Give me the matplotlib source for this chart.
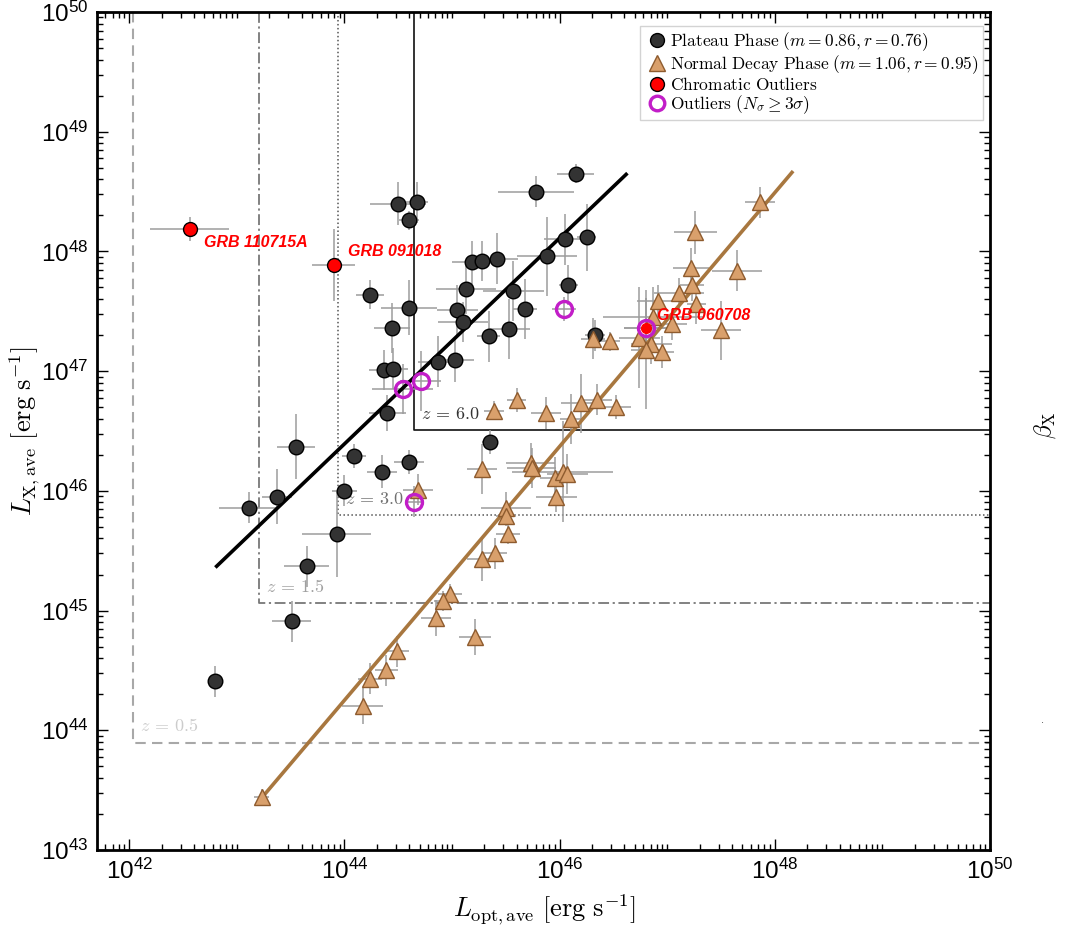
import numpy as np
import matplotlib
matplotlib.use("Agg")
import matplotlib.pyplot as plt
from matplotlib import font_manager
from matplotlib.lines import Line2D
from matplotlib.font_manager import FontProperties
from matplotlib.ticker import FixedLocator, FuncFormatter

# ---------------------------------------------------------------------------
# Data (log10 of luminosities) and symmetric errors in dex
# ---------------------------------------------------------------------------
plat_log_opt = [44.50, 44.67, 44.60, 44.24, 44.60, 44.44, 44.37, 44.45, 44.40, 44.87,
                43.55, 46.15, 45.78, 46.05, 46.25, 45.88, 45.19, 45.28, 45.42, 45.13,
                45.57, 46.08, 45.05, 45.68, 45.10, 45.34, 45.53, 45.03, 46.33, 45.35,
                43.37, 43.11, 44.09, 44.35, 44.60, 44.00, 43.93, 43.65, 43.51, 42.80]
plat_log_x = [48.40, 48.41, 48.26, 47.64, 47.53, 47.36, 47.01, 47.02, 46.65, 47.08,
              46.37, 48.65, 48.50, 48.10, 48.12, 47.96, 47.91, 47.92, 47.94, 47.69,
              47.67, 47.72, 47.51, 47.52, 47.41, 47.29, 47.35, 47.09, 47.30, 46.41,
              45.95, 45.86, 46.29, 46.16, 46.24, 46.00, 45.64, 45.37, 44.91, 44.41]
plat_err_opt = [0.26, 0.11, 0.09, 0.13, 0.26, 0.17, 0.14, 0.14, 0.17, 0.19,
                0.18, 0.17, 0.35, 0.20, 0.09, 0.28, 0.19, 0.14, 0.19, 0.28,
                0.28, 0.09, 0.19, 0.11, 0.23, 0.11, 0.19, 0.17, 0.09, 0.07,
                0.14, 0.28, 0.11, 0.14, 0.14, 0.12, 0.32, 0.21, 0.18, 0.05]
plat_err_x = [0.18, 0.17, 0.08, 0.12, 0.23, 0.21, 0.17, 0.17, 0.15, 0.21,
              0.27, 0.08, 0.13, 0.21, 0.28, 0.33, 0.18, 0.17, 0.21, 0.21,
              0.25, 0.17, 0.21, 0.25, 0.17, 0.21, 0.25, 0.18, 0.13, 0.10,
              0.23, 0.13, 0.10, 0.14, 0.10, 0.13, 0.36, 0.17, 0.17, 0.13]

norm_log_opt = [45.60, 45.39, 45.87, 46.11, 46.20, 46.35, 46.52, 45.28, 45.73, 45.74,
                45.96, 46.03, 46.07, 45.97, 45.50, 45.50, 45.52, 45.28, 45.40, 44.98,
                44.92, 44.85, 45.21, 44.49, 44.39, 44.24, 44.17, 44.68, 43.23, 47.86,
                47.26, 47.22, 47.65, 47.23, 47.11, 46.91, 47.27, 46.87, 47.04, 47.50,
                46.74, 46.85, 46.80, 46.95, 46.31, 46.47]
norm_log_x = [46.76, 46.67, 46.65, 46.60, 46.73, 46.76, 46.70, 46.18, 46.23, 46.19,
              46.11, 46.16, 46.14, 45.95, 45.86, 45.79, 45.64, 45.43, 45.48, 45.14,
              45.08, 44.94, 44.78, 44.66, 44.50, 44.43, 44.20, 46.01, 43.44, 48.41,
              48.16, 47.86, 47.84, 47.72, 47.65, 47.59, 47.56, 47.45, 47.39, 47.34,
              47.28, 47.23, 47.18, 47.16, 47.27, 47.25]
norm_err_opt = [0.09, 0.09, 0.14, 0.11, 0.19, 0.14, 0.14, 0.14, 0.23, 0.23,
                0.14, 0.47, 0.19, 0.19, 0.23, 0.09, 0.11, 0.14, 0.11, 0.11,
                0.09, 0.14, 0.15, 0.11, 0.11, 0.11, 0.19, 0.14, 0.07, 0.14,
                0.20, 0.17, 0.23, 0.11, 0.23, 0.19, 0.09, 0.47, 0.14, 0.19,
                0.19, 0.19, 0.14, 0.11, 0.11, 0.09]
norm_err_x = [0.10, 0.08, 0.13, 0.21, 0.25, 0.13, 0.10, 0.21, 0.17, 0.17,
              0.17, 0.42, 0.17, 0.13, 0.13, 0.08, 0.08, 0.18, 0.13, 0.08,
              0.08, 0.15, 0.15, 0.13, 0.13, 0.13, 0.15, 0.13, 0.07, 0.13,
              0.18, 0.17, 0.17, 0.13, 0.13, 0.13, 0.17, 0.25, 0.13, 0.25,
              0.42, 0.17, 0.50, 0.13, 0.17, 0.08]

chrom_names = ["GRB 110715A", "GRB 091018", "GRB 060708"]
chrom_log_opt = [42.56, 43.90, 46.80]
chrom_log_x = [48.19, 47.89, 47.36]
chrom_err_opt = [0.37, 0.20, 0.20]
chrom_err_x = [0.10, 0.30, 0.25]

out_log_opt = [44.54, 44.71, 46.04, 44.65, 46.80]
out_log_x = [46.85, 46.92, 47.52, 45.91, 47.36]
out_err_opt = [0.28, 0.19, 0.11, 0.09, 0.20]
out_err_x = [0.21, 0.25, 0.10, 0.13, 0.25]

# fits: log Lx = m log Lopt + b, drawn over the given log Lopt range
plat_fit = dict(m=0.86, b=8.552, r=0.76, lo=42.80, hi=46.63)
norm_fit = dict(m=1.06, b=-2.389, r=0.95, lo=43.23, hi=48.17)

# redshift detection limits (log Lopt, log Lx)
z_vals = [0.5, 1.5, 3.0, 6.0]
z_lim_opt = [42.035, 43.207, 43.942, 44.649]
z_lim_x = [43.894, 45.063, 45.798, 46.508]

# ---------------------------------------------------------------------------
# Fonts
# ---------------------------------------------------------------------------
try:
    font_manager.findfont("Liberation Sans Narrow", fallback_to_default=False)
    tick_font, tick_size = "Liberation Sans Narrow", 21
except ValueError:
    tick_font, tick_size = "Liberation Sans", 17.5

plt.rcParams["mathtext.fontset"] = "custom"
plt.rcParams["mathtext.rm"] = tick_font
plt.rcParams["mathtext.it"] = tick_font + ":italic"
plt.rcParams["mathtext.bf"] = tick_font + ":bold"
plt.rcParams["font.family"] = ["Liberation Sans", "DejaVu Sans"]

PLAT_FACE = "#333333"
NORM_FACE = "#D9A06C"
NORM_EDGE = "#8E5B2E"
FIT_BROWN = "#A8773F"
MAGENTA = "#C21EC8"
ERR_GREY = "#9c9c9c"


def asym(log_v, err):
    v = 10.0 ** np.asarray(log_v)
    e = np.asarray(err)
    return v, [v - 10.0 ** (np.asarray(log_v) - e), 10.0 ** (np.asarray(log_v) + e) - v]


def draw_errors(ax, lx, ly, ex, ey):
    x, xe = asym(lx, ex)
    y, ye = asym(ly, ey)
    ax.errorbar(x, y, xerr=xe, yerr=ye, fmt="none", ecolor=ERR_GREY,
                elinewidth=1.1, capsize=0, zorder=2)
    return x, y


fig = plt.figure(figsize=(10.7, 9.32), dpi=100)
ax = fig.add_axes([97 / 1070, 1 - 850 / 932, 893 / 1070, 838 / 932])
ax.set_xscale("log")
ax.set_yscale("log")
ax.set_xlim(10 ** 41.7, 1e50)
ax.set_ylim(1e43, 1e50)

# redshift limit boxes
z_styles = [dict(color="#a8a8a8", ls=(0, (5, 3)), lw=1.5),
            dict(color="#777777", ls=(0, (6, 2, 1.2, 2)), lw=1.3),
            dict(color="#555555", ls=(0, (1, 1.6)), lw=1.1),
            dict(color="#111111", ls="-", lw=1.2)]
z_text_col = ["#cccccc", "#a0a0a0", "#707070", "#333333"]
for z, lo, lx, st, tc in zip(z_vals, z_lim_opt, z_lim_x, z_styles, z_text_col):
    ax.plot([10 ** lo, 10 ** lo, 1e50], [1e50, 10 ** lx, 10 ** lx], zorder=1, **st)
    ax.annotate(r"$z\,=\,%.1f$" % z, (10 ** lo, 10 ** lx), xytext=(7, 16),
                textcoords="offset pixels", ha="left", va="center",
                fontsize=13, color=tc, math_fontfamily="cm", zorder=1)

# error bars
px, py = draw_errors(ax, plat_log_opt, plat_log_x, plat_err_opt, plat_err_x)
nx, ny = draw_errors(ax, norm_log_opt, norm_log_x, norm_err_opt, norm_err_x)
cx, cy = draw_errors(ax, chrom_log_opt, chrom_log_x, chrom_err_opt, chrom_err_x)
ox, oy = draw_errors(ax, out_log_opt, out_log_x, out_err_opt, out_err_x)

# fit lines
for fit, col in [(plat_fit, "black"), (norm_fit, FIT_BROWN)]:
    lo_x = np.array([fit["lo"], fit["hi"]])
    ax.plot(10 ** lo_x, 10 ** (fit["m"] * lo_x + fit["b"]), color=col, lw=2.6,
            solid_capstyle="butt", zorder=3)

# markers
ax.plot(px, py, "o", ms=10.5, mfc=PLAT_FACE, mec="black", mew=1.0, zorder=4)
ax.plot(nx, ny, "^", ms=11.5, mfc=NORM_FACE, mec=NORM_EDGE, mew=1.0, zorder=4)
ax.plot(ox, oy, "o", ms=11.5, mfc="#e9b8ec", mec=MAGENTA, mew=2.4, zorder=5,
        markerfacecoloralt="none", fillstyle="none")
# chromatic outliers: the one sitting inside an outlier ring is drawn smaller
for x, y, lo in zip(cx, cy, chrom_log_opt):
    ringed = any(abs(lo - o) < 0.02 for o in out_log_opt)
    ax.plot([x], [y], "o", ms=7 if ringed else 10, mfc="red",
            mec="red" if ringed else "black", mew=1.0, zorder=6)

label_offsets = [(14, -14), (14, 13), (11, 13)]
for name, x, y, off in zip(chrom_names, cx, cy, label_offsets):
    ax.annotate(name, (x, y), xytext=off, textcoords="offset pixels",
                ha="left", va="center", color="red", fontsize=11.5,
                fontweight="bold", fontstyle="italic", zorder=7)

# ticks
ax.xaxis.set_major_locator(FixedLocator([10.0 ** k for k in range(42, 51, 2)]))
ax.yaxis.set_major_locator(FixedLocator([10.0 ** k for k in range(43, 51)]))
x_minor = [m * 10.0 ** k for k in range(41, 50) for m in range(1, 10)
           if not (m == 1 and k % 2 == 0)]
y_minor = [m * 10.0 ** k for k in range(43, 50) for m in range(2, 10)]
ax.xaxis.set_minor_locator(FixedLocator(x_minor))
ax.yaxis.set_minor_locator(FixedLocator(y_minor))
fmt = FuncFormatter(lambda v, pos: r"$10^{%d}$" % round(np.log10(v)))
ax.xaxis.set_major_formatter(fmt)
ax.yaxis.set_major_formatter(fmt)
ax.xaxis.set_minor_formatter(FuncFormatter(lambda v, pos: ""))
ax.yaxis.set_minor_formatter(FuncFormatter(lambda v, pos: ""))
ax.tick_params(which="both", direction="in", top=True, right=True,
               labelsize=tick_size, width=1.0)
ax.tick_params(which="major", length=8, pad=6)
ax.tick_params(which="minor", length=4)
for sp in ax.spines.values():
    sp.set_linewidth(2.0)

ax.set_xlabel(r"$L_{\rm opt,ave}\ [{\rm erg\ s^{-1}}]$", fontsize=19,
              math_fontfamily="cm")
ax.set_ylabel(r"$L_{\rm X,ave}\ [{\rm erg\ s^{-1}}]$", fontsize=19,
              math_fontfamily="cm")
ax.xaxis.set_label_coords(0.501, -0.051)
ax.yaxis.set_label_coords(-0.062, 0.5)

# legend
handles = [
    Line2D([], [], ls="none", marker="o", ms=10, mfc=PLAT_FACE, mec="black"),
    Line2D([], [], ls="none", marker="^", ms=11, mfc=NORM_FACE, mec=NORM_EDGE),
    Line2D([], [], ls="none", marker="o", ms=10, mfc="red", mec="black"),
    Line2D([], [], ls="none", marker="o", ms=10.5, mfc="none", mec=MAGENTA, mew=2.4),
]
labels = [
    r"$\mathrm{Plateau\ Phase}\ (m = %.2f, r = %.2f)$" % (plat_fit["m"], plat_fit["r"]),
    r"$\mathrm{Normal\ Decay\ Phase}\ (m = %.2f, r = %.2f)$" % (norm_fit["m"], norm_fit["r"]),
    r"$\mathrm{Chromatic\ Outliers}$",
    r"$\mathrm{Outliers}\ (N_\sigma \geq 3\sigma)$",
]
leg = ax.legend(handles, labels, loc="upper right", bbox_to_anchor=(0.992, 0.983),
                prop=FontProperties(size=12.5, math_fontfamily="cm"),
                frameon=True, fancybox=False, edgecolor="#c8c8c8",
                borderpad=0.25, labelspacing=0.0, handletextpad=0.05,
                handlelength=1.4, borderaxespad=0.0)
leg.get_frame().set_linewidth(1.0)

fig.text(1045 / 1070, 1 - 425 / 932, r"$\beta_{\rm X}$", rotation=90,
         ha="center", va="center", fontsize=17, math_fontfamily="cm")
fig.text(1043 / 1070, 1 - 720 / 932, ".", ha="center", va="center",
         fontsize=8, color="#444444")

fig.savefig("out.png", dpi=100, facecolor="white")
